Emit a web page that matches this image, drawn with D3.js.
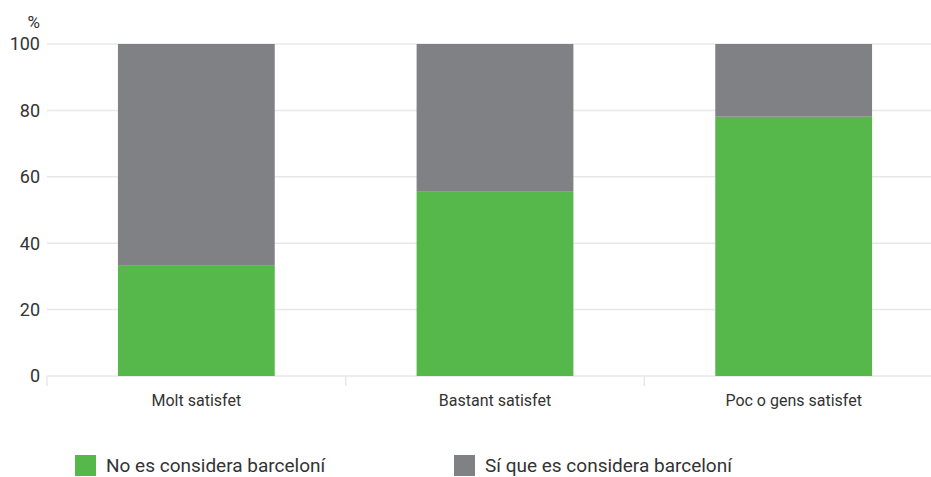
<!DOCTYPE html>
<html>
<head>
<meta charset="utf-8">
<script src="https://cdn.jsdelivr.net/npm/d3@7"></script>
<style>
  body { margin: 0; background: #fff; }
  text { font-family: Roboto, sans-serif; fill: #333; }
</style>
</head>
<body>
<div id="canvas"></div>
<script>
// data
var categories = ['Molt satisfet', 'Bastant satisfet', 'Poc o gens satisfet'];
var seriesNames = ['No es considera barceloní', 'Sí que es considera barceloní'];
var noBarcelona = [33.2, 55.5, 78.1];
var siBarcelona = [66.8, 44.5, 21.9];
var yTicks = [0, 20, 40, 60, 80, 100];
var colors = ['#56b84a', '#808184'];

var width = 931, height = 477;

var rows = categories.map(function(c, i) {
    return { cat: c, no: noBarcelona[i], si: siBarcelona[i] };
});
var stack = d3.stack().keys(['no', 'si']);
var series = stack(rows);

var x = d3.scaleBand()
    .domain(categories)
    .range([47, 943])
    .paddingInner(0.475)
    .paddingOuter(0.2375);
var y = d3.scaleLinear()
    .domain([0, 100])
    .range([376, 44]);

var svg = d3.select('#canvas')
    .append('svg')
    .attr('width', width)
    .attr('height', height);

// grid
svg.append('g')
    .selectAll('line')
    .data(yTicks)
    .enter()
    .append('line')
    .attr('x1', 47)
    .attr('x2', width)
    .attr('y1', function(d) { return y(d); })
    .attr('y2', function(d) { return y(d); })
    .attr('stroke', '#e8e8e8')
    .attr('stroke-width', 1.5);

// y labels
svg.append('g')
    .selectAll('text')
    .data(yTicks)
    .enter()
    .append('text')
    .attr('x', 40)
    .attr('y', function(d) { return y(d); })
    .attr('dy', '0.36em')
    .attr('text-anchor', 'end')
    .style('font-size', '18px')
    .text(function(d) { return d; });

svg.append('text')
    .attr('x', 40)
    .attr('y', 28)
    .attr('text-anchor', 'end')
    .style('font-size', '17px')
    .text('%');

// x ticks
var step = x.step();
var bounds = [47, 47 + step, 47 + 2 * step];
svg.append('g')
    .selectAll('line')
    .data(bounds)
    .enter()
    .append('line')
    .attr('x1', function(d) { return d; })
    .attr('x2', function(d) { return d; })
    .attr('y1', 376)
    .attr('y2', 386)
    .attr('stroke', '#e8e8e8')
    .attr('stroke-width', 1.5);

// bars
svg.append('g')
    .selectAll('g')
    .data(series)
    .enter()
    .append('g')
    .attr('fill', function(d, i) { return colors[i]; })
    .selectAll('rect')
    .data(function(d) { return d; })
    .enter()
    .append('rect')
    .attr('x', function(d) { return x(d.data.cat); })
    .attr('y', function(d) { return y(d[1]); })
    .attr('width', x.bandwidth())
    .attr('height', function(d) { return y(d[0]) - y(d[1]); });

// category labels
svg.append('g')
    .selectAll('text')
    .data(categories)
    .enter()
    .append('text')
    .attr('x', function(d) { return x(d) + x.bandwidth() / 2; })
    .attr('y', 406)
    .attr('text-anchor', 'middle')
    .style('font-size', '16px')
    .text(function(d) { return d; });

// legend
var legend = svg.append('g')
    .selectAll('g')
    .data(seriesNames)
    .enter()
    .append('g')
    .attr('transform', function(d, i) { return 'translate(' + (75 + i * 379) + ',455)'; });
legend.append('rect')
    .attr('width', 21)
    .attr('height', 21)
    .attr('fill', function(d, i) { return colors[i]; });
legend.append('text')
    .attr('x', 31)
    .attr('y', 17)
    .style('font-size', '19px')
    .text(function(d) { return d; });
</script>
</body>
</html>
